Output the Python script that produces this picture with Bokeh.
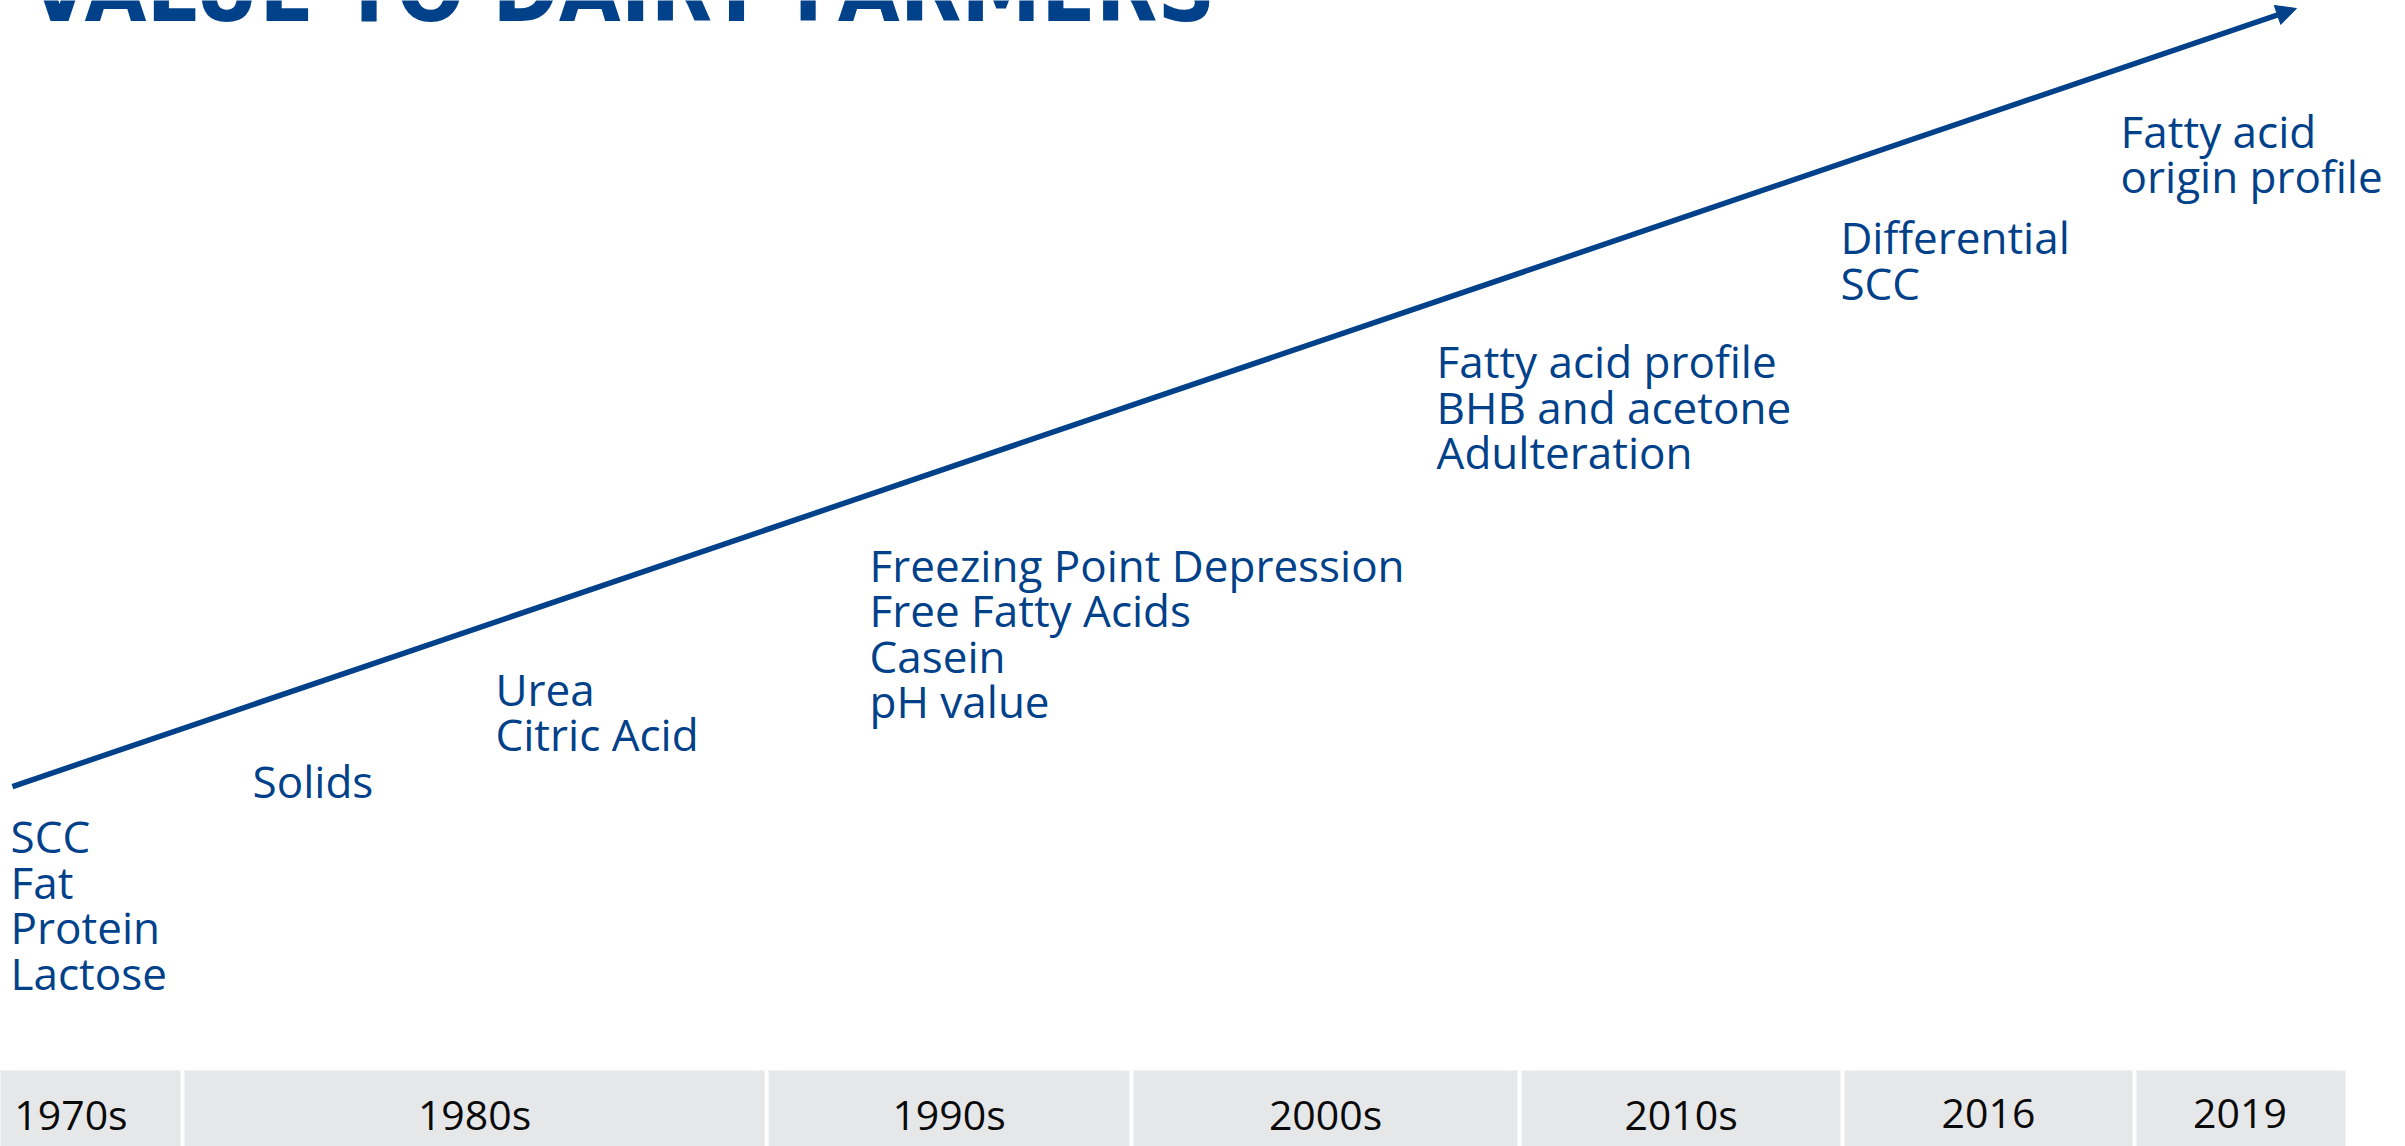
from bokeh.plotting import figure
from bokeh.models import Range1d, Arrow, NormalHead, ColumnDataSource
from bokeh.core.properties import value
from bokeh.embed import file_html
from bokeh.resources import INLINE

# ---------------- data ----------------
title_text = "VALUE TO DAIRY FARMERS"

periods = ["1970s", "1980s", "1990s", "2000s", "2010s", "2016", "2019"]
# period boundaries on the timeline (percent of timeline length)
period_edges = [-1.75, 7.76, 32.67, 48.23, 64.78, 78.55, 91.0, 100.0]

label_groups = [
    ["SCC", "Fat", "Protein", "Lactose"],
    ["Solids"],
    ["Urea", "Citric Acid"],
    ["Freezing Point Depression", "Free Fatty Acids", "Casein", "pH value"],
    ["Fatty acid profile", "BHB and acetone", "Adulteration"],
    ["Differential", "SCC"],
    ["Fatty acid", "origin profile"],
]
# where each group sits (timeline %, value level %)
label_x = [0.43, 10.75, 21.11, 37.06, 61.24, 78.46, 90.41]
label_level = [25.57, 30.45, 38.48, 49.30, 67.02, 77.84, 87.17]

# value trend arrow (timeline %, level %)
trend_start = (0.51, 31.41)
trend_end = (97.91, 99.30)

# ---------------- layout / style ----------------
W, H = 2405, 1146
PX_PER_X = 2345 / 100.0
PX_PER_Y = H / 100.0
BAND_TOP = 76 / PX_PER_Y
YEAR_BASE = 17 / PX_PER_Y
LINE_GAP = 45.5 / PX_PER_Y
TITLE_X = 28 / PX_PER_X
TITLE_BASE = (H - 24) / PX_PER_Y
BASE_FIX = 0.386  # em; lift so the alphabetic baseline lands where intended

LABEL_FS, YEAR_FS, TITLE_FS = 44, 41, 89

BLUE = "#00418A"
GREY = "#E6E7E9"
FONT = "Open Sans"


def lift(fs):
    return BASE_FIX * fs / PX_PER_Y


p = figure(
    width=W, height=H,
    x_range=Range1d(0, W / PX_PER_X),
    y_range=Range1d(0, H / PX_PER_Y),
    output_backend="svg", toolbar_location=None, min_border=0,
)
p.axis.visible = False
p.grid.visible = False
p.outline_line_color = None
p.background_fill_color = "white"
p.border_fill_color = "white"

# bottom period band
band = ColumnDataSource(dict(
    left=period_edges[:-1], right=period_edges[1:],
    center=[(a + b) / 2 for a, b in zip(period_edges[:-1], period_edges[1:])],
    label=periods,
))
p.quad(left="left", right="right", bottom=0, top=BAND_TOP, source=band,
       fill_color=GREY, line_color=None)
p.segment(x0=period_edges[1:-1], x1=period_edges[1:-1], y0=0, y1=BAND_TOP,
          line_color="white", line_width=4)
p.text(x="center", y=YEAR_BASE + lift(YEAR_FS), text="label", source=band,
       text_font=value(FONT), text_font_size=f"{YEAR_FS}px", text_color="#0a0a0a",
       text_align="center", text_baseline="alphabetic")

# trend arrow
p.add_layout(Arrow(
    end=NormalHead(size=20, fill_color=BLUE, line_color=BLUE, line_width=1),
    x_start=trend_start[0], y_start=trend_start[1],
    x_end=trend_end[0], y_end=trend_end[1],
    line_color=BLUE, line_width=5.5,
))

# labels
xs, ys, txt = [], [], []
for grp, gx, gy in zip(label_groups, label_x, label_level):
    for i, t in enumerate(grp):
        xs.append(gx)
        ys.append(gy - i * LINE_GAP + lift(LABEL_FS))
        txt.append(t)
p.text(x=xs, y=ys, text=txt, text_font=value(FONT), text_font_size=f"{LABEL_FS}px",
       text_color=BLUE, text_align="left", text_baseline="alphabetic")

# title (mostly cut off at the top, as in the reference)
p.text(x=[TITLE_X], y=[TITLE_BASE + lift(TITLE_FS)], text=[title_text],
       text_font=value("DejaVu Sans Condensed"), text_font_size=f"{TITLE_FS}px",
       text_font_style="bold", text_color=BLUE,
       text_align="left", text_baseline="alphabetic")

open("out.html", "w").write(file_html(p, INLINE))
